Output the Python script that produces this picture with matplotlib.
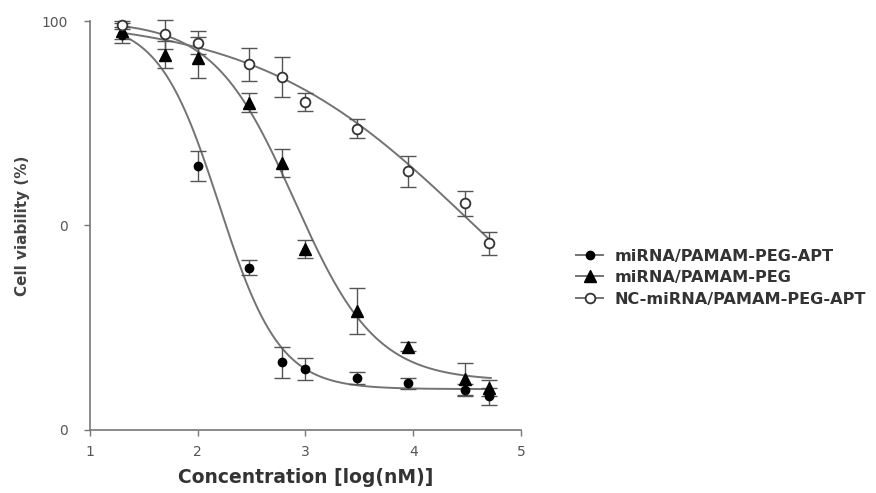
import numpy as np
import matplotlib.pyplot as plt

plt.rcParams['font.family'] = ['DejaVu Sans']

# log concentration for each dose
conc = [1.3, 2.0, 2.48, 2.78, 3.0, 3.48, 3.95, 4.48, 4.7]
conc_nc = [1.3, 1.7, 2.0, 2.48, 2.78, 3.0, 3.48, 3.95, 4.48, 4.7]
conc_peg = [1.3, 1.7, 2.0, 2.48, 2.78, 3.0, 3.48, 3.95, 4.48, 4.7]

apt_mean = [96.5, 64.5, 39.7, 16.6, 14.9, 12.7, 11.4, 9.8, 8.2]
apt_err = [2.0, 3.7, 1.8, 3.8, 2.6, 1.5, 1.3, 1.5, 2.0]

peg_mean = [97.5, 91.8, 91.0, 80.0, 65.3, 44.3, 29.0, 20.4, 12.5, 10.2]
peg_err = [2.0, 3.3, 5.0, 2.3, 3.5, 2.2, 5.6, 1.0, 4.0, 2.0]

nc_mean = [99.0, 96.7, 94.7, 89.4, 86.3, 80.3, 73.7, 63.3, 55.4, 45.7]
nc_err = [1.0, 3.5, 2.8, 4.1, 4.9, 2.2, 2.4, 3.8, 3.1, 2.8]

# fitted 4PL parameters (top, bottom, logIC50, hill)
apt_fit = (100.0, 10.0, 2.2, 1.55)
peg_fit = (100.0, 12.0, 2.9, 1.15)
nc_fit = (101.0, 0.0, 4.55, 0.43)

labels = ["miRNA/PAMAM-PEG-APT", "miRNA/PAMAM-PEG", "NC-miRNA/PAMAM-PEG-APT"]


def logistic(x, p):
	top, bottom, ic50, hill = p
	return bottom + (top - bottom) / (1 + 10 ** ((x - ic50) * hill))


fig = plt.figure(figsize=(8.76, 4.93), dpi=100)
ax = fig.add_axes([0.1027, 0.1278, 0.492, 0.8296])

line_col = "#737373"
err_col = "#555555"
xs = np.linspace(1.3, 4.72, 300)

series = [
	(conc, apt_mean, apt_err, apt_fit, dict(marker="o", ms=6, mfc="black", mec="black")),
	(conc_peg, peg_mean, peg_err, peg_fit, dict(marker="^", ms=8, mfc="black", mec="black")),
	(conc_nc, nc_mean, nc_err, nc_fit, dict(marker="o", ms=7, mfc="white", mec="#333333", mew=1.3)),
]

handles = []
for (x, y, e, p, mk), lab in zip(series, labels):
	ax.plot(xs, logistic(xs, p), color=line_col, lw=1.4, zorder=2, clip_on=False)
	ax.errorbar(x, y, yerr=e, fmt="none", ecolor=err_col, elinewidth=1.0,
		capsize=5.5, capthick=1.0, zorder=3, clip_on=False)
	ax.plot(x, y, ls="none", zorder=4, clip_on=False, **mk)
	h, = ax.plot([], [], color=line_col, lw=1.4, **mk)
	handles.append(h)

ax.set_xlim(1, 5)
ax.set_ylim(0, 100)
ax.set_xticks([1, 2, 3, 4, 5])
ax.set_yticks([0, 50, 100])
ax.set_yticklabels(["0", "0", "100"])

for s in ["top", "right"]:
	ax.spines[s].set_visible(False)
for s in ["left", "bottom"]:
	ax.spines[s].set_color("#777777")
	ax.spines[s].set_linewidth(1.2)
ax.tick_params(colors="#777777", labelcolor="#555555", labelsize=10, length=4, width=1.0)
ax.tick_params(axis="x", pad=7)
ax.tick_params(axis="y", pad=12)

ax.set_xlabel("Concentration [log(nM)]", fontsize=13.5, fontweight="bold", color="#333333", labelpad=6)
ax.set_ylabel("Cell viability (%)", fontsize=11, fontweight="bold", color="#444444", labelpad=8)

leg = fig.legend(handles, labels, loc="center left", bbox_to_anchor=(0.641, 0.437),
	frameon=False, fontsize=11.6, handlelength=1.7, handletextpad=0.7, labelspacing=0.4)
for t in leg.get_texts():
	t.set_color("#333333")
	t.set_fontweight("bold")

plt.savefig("out.png", dpi=100)
